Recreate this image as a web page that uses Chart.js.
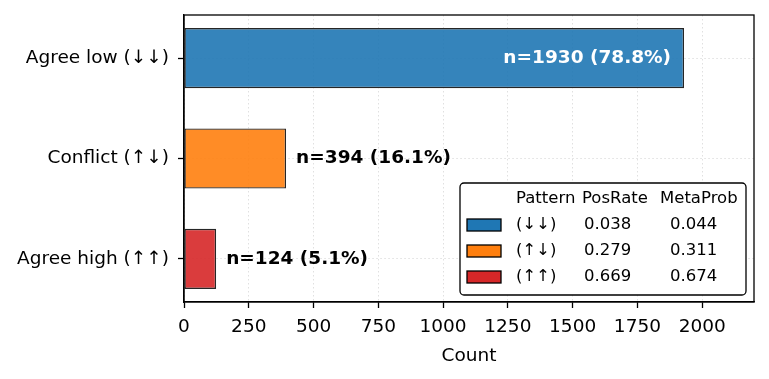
<!DOCTYPE html>
<html>
<head>
<meta charset="utf-8">
<script src="https://cdn.jsdelivr.net/npm/chart.js@4/dist/chart.umd.min.js"></script>
<style>
  body { margin: 0; background: #fff; }
</style>
</head>
<body>
<canvas id="chart" width="769" height="379"></canvas>
<script>
// data
const categories = ['Agree low (↓↓)', 'Conflict (↑↓)', 'Agree high (↑↑)'];
const counts = [1930, 394, 124];
const shares = [78.8, 16.1, 5.1];
const countTicks = [0, 250, 500, 750, 1000, 1250, 1500, 1750, 2000];

// side table in the legend box
const tableHeader = ['Pattern', 'PosRate', 'MetaProb'];
const patterns = ['(↓↓)', '(↑↓)', '(↑↑)'];
const posRates = [0.038, 0.279, 0.669];
const metaProbs = [0.044, 0.311, 0.674];

const FONT = 'DejaVu Sans';
const solidColors = ['#1f77b4', '#ff7f0e', '#d62728'];
const barColors = ['rgba(31,119,180,0.9)', 'rgba(255,127,14,0.9)', 'rgba(214,39,40,0.9)'];

const barLabels = {
  id: 'barLabels',
  afterDatasetsDraw(chart) {
    const ctx = chart.ctx;
    const bars = chart.getDatasetMeta(0).data;
    ctx.save();
    ctx.font = `bold 18.5px "${FONT}"`;
    ctx.textBaseline = 'middle';
    bars.forEach((bar, i) => {
      const text = `n=${counts[i]} (${shares[i].toFixed(1)}%)`;
      if (i === 0) {
        ctx.fillStyle = '#fff';
        ctx.textAlign = 'right';
        ctx.fillText(text, bar.x - 13, bar.y);
      } else {
        ctx.fillStyle = '#000';
        ctx.textAlign = 'left';
        ctx.fillText(text, bar.x + 10, bar.y);
      }
    });
    ctx.restore();
  }
};

const frameBox = {
  id: 'frameBox',
  afterDatasetsDraw(chart) {
    const { left, top, right, bottom } = chart.chartArea;
    const ctx = chart.ctx;
    ctx.save();
    ctx.strokeStyle = '#000';
    ctx.lineWidth = 1.3;
    ctx.strokeRect(left, top, right - left, bottom - top);
    ctx.restore();
  }
};

const tableLegend = {
  id: 'tableLegend',
  afterDraw(chart) {
    const ctx = chart.ctx;
    const area = chart.chartArea;
    const x0 = area.right - 294;
    const y0 = area.bottom - 119;
    const w = 286;
    const h = 112;

    ctx.save();
    ctx.fillStyle = '#fff';
    ctx.strokeStyle = '#000';
    ctx.lineWidth = 1.3;
    ctx.beginPath();
    ctx.roundRect(x0, y0, w, h, 4);
    ctx.fill();
    ctx.stroke();

    ctx.font = `16.5px "${FONT}"`;
    ctx.fillStyle = '#000';
    ctx.textBaseline = 'middle';
    ctx.textAlign = 'left';
    ctx.fillText(tableHeader[0], x0 + 56, y0 + 16);
    ctx.fillText(tableHeader[1], x0 + 122, y0 + 16);
    ctx.fillText(tableHeader[2], x0 + 200, y0 + 16);

    patterns.forEach((p, i) => {
      const cy = y0 + 42 + i * 26;
      ctx.fillStyle = solidColors[i];
      ctx.fillRect(x0 + 7, cy - 6, 34, 12);
      ctx.lineWidth = 1.3;
      ctx.strokeRect(x0 + 7, cy - 6, 34, 12);
      ctx.fillStyle = '#000';
      ctx.fillText(p, x0 + 56, cy);
      ctx.fillText(posRates[i].toFixed(3), x0 + 124, cy);
      ctx.fillText(metaProbs[i].toFixed(3), x0 + 210, cy);
    });
    ctx.restore();
  }
};

const gridStyle = {
  offset: false,
  color: 'rgba(190,190,190,0.6)',
  lineWidth: 0.8,
  tickColor: '#000',
  tickWidth: 1.3,
  tickLength: 6
};

new Chart(document.getElementById('chart'), {
  type: 'bar',
  data: {
    datasets: [{
      data: counts.map((c, i) => ({ x: c, y: i })),
      backgroundColor: barColors,
      borderColor: '#262626',
      borderWidth: 1.4,
      borderSkipped: false,
      barPercentage: 0.6,
      categoryPercentage: 1
    }]
  },
  options: {
    indexAxis: 'y',
    responsive: false,
    animation: false,
    layout: { padding: { left: 0, top: 15, right: 15, bottom: 0 } },
    plugins: { legend: { display: false }, tooltip: { enabled: false } },
    scales: {
      x: {
        type: 'linear',
        min: 0,
        max: 2200,
        afterBuildTicks: (scale) => { scale.ticks = countTicks.map(v => ({ value: v })); },
        afterFit: (scale) => { scale.height = 77; },
        grid: gridStyle,
        border: { display: true, color: '#000', width: 1.3, dash: [1.5, 2.5] },
        ticks: {
          color: '#000',
          padding: 8,
          font: { family: FONT, size: 18.5 },
          maxRotation: 0,
          callback: (v) => String(v)
        },
        title: { display: true, text: 'Count', color: '#000', font: { family: FONT, size: 18.5 }, padding: { top: 0, bottom: 12 } }
      },
      y: {
        type: 'linear',
        offset: false,
        reverse: true,
        min: -0.43,
        max: 2.43,
        afterBuildTicks: (scale) => { scale.ticks = categories.map((c, i) => ({ value: i })); },
        afterFit: (scale) => {
          scale.width = 184;
          scale.paddingTop = 0;
          scale.paddingBottom = 0;
        },
        grid: gridStyle,
        border: { display: true, color: '#000', width: 1.3, dash: [1.5, 2.5] },
        ticks: {
          color: '#000',
          padding: 9,
          font: { family: FONT, size: 18.5 },
          callback: (v) => categories[v]
        }
      }
    }
  },
  plugins: [barLabels, frameBox, tableLegend]
});
</script>
</body>
</html>
